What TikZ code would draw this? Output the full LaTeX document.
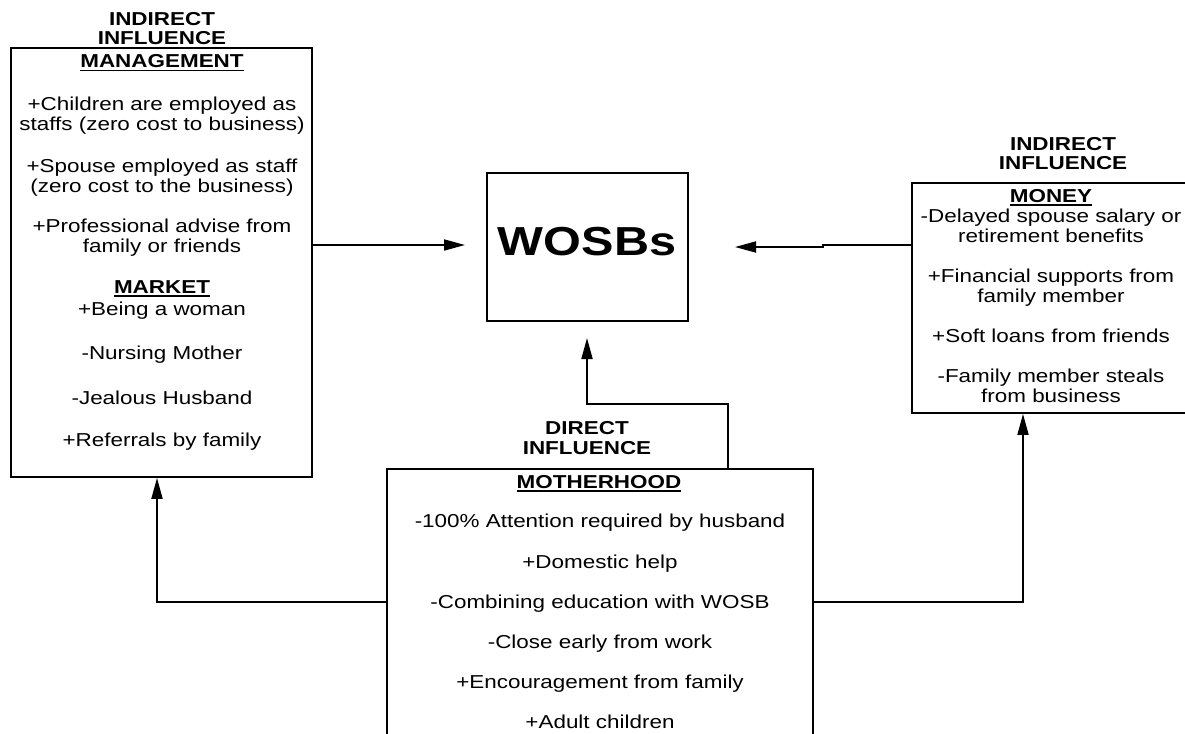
\documentclass[tikz,border=0pt]{standalone}
\usepackage{fontspec}
\setmainfont[FakeStretch=1.2]{Liberation Sans}
\usetikzlibrary{arrows.meta}
\newcommand\myul[1]{\setbox0\hbox{#1}\rlap{\rule[-3.5pt]{\wd0}{1.6pt}}\box0}
\begin{document}
\begin{tikzpicture}[x=1pt,y=-1pt,
  box/.style={draw, line width=1.8pt, inner sep=0pt},
  txt/.style={anchor=base, inner sep=0pt, font=\fontsize{18.7}{21}\selectfont},
  hdr/.style={anchor=base, inner sep=0pt, font=\fontsize{18.7}{21}\selectfont\bfseries},
  conn/.style={line width=1.8pt},
  arr/.style={conn, -{Triangle[length=21pt,width=11pt]}}]
\useasboundingbox (0,0) rectangle (1185,733);
\fill[white] (0,0) rectangle (1185,733);
% boxes
\node[box, minimum width=301pt, minimum height=429pt] (lbox) at (161.5,262.5) {};
\node[box, minimum width=201pt, minimum height=148pt] (wbox) at (587.5,247) {};
\node[box, minimum width=280pt, minimum height=230pt] (rbox) at (1052,298) {};
\node[box, minimum width=426pt, minimum height=291pt] (bbox) at (600,614.5) {};
% WOSBs
\node[anchor=base, inner sep=0pt, font=\fontsize{40.5}{42}\selectfont\bfseries] (wt) at (587,255) {WOSBs};
% left box texts
\node[hdr] (lh1) at (162,26) {INDIRECT};
\node[hdr] (lh2) at (162,45) {INFLUENCE};
\node[hdr] (lh3) at (162,68) {\myul{MANAGEMENT}};
\node[txt] (l1) at (162,111) {+Children are employed as};
\node[txt] (l2) at (162,131) {staffs (zero cost to business)};
\node[txt] (l3) at (162,172) {+Spouse employed as staff};
\node[txt] (l4) at (162,192) {(zero cost to the business)};
\node[txt] (l5) at (162,232) {+Professional advise from};
\node[txt] (l6) at (162,252) {family or friends};
\node[hdr] (lh4) at (162,293) {\myul{MARKET}};
\node[txt] (l7) at (162,315) {+Being a woman};
\node[txt] (l8) at (162,359) {-Nursing Mother};
\node[txt] (l9) at (162,404) {-Jealous Husband};
\node[txt] (l10) at (162,446) {+Referrals by family};
% right box texts
\node[hdr] (rh1) at (1063,150) {INDIRECT};
\node[hdr] (rh2) at (1063,169) {INFLUENCE};
\node[hdr] (rh3) at (1051,202) {\myul{MONEY}};
\node[txt] (r1) at (1051,222) {-Delayed spouse salary or};
\node[txt] (r2) at (1051,242) {retirement benefits};
\node[txt] (r3) at (1051,282) {+Financial supports from};
\node[txt] (r4) at (1051,302) {family member};
\node[txt] (r5) at (1051,342) {+Soft loans from friends};
\node[txt] (r6) at (1051,382) {-Family member steals};
\node[txt] (r7) at (1051,402) {from business};
% bottom box texts
\node[hdr] (bh1) at (587,434) {DIRECT};
\node[hdr] (bh2) at (587,454) {INFLUENCE};
\node[hdr] (bh3) at (599,488) {\myul{MOTHERHOOD}};
\node[txt] (b1) at (600,527) {-100\% Attention required by husband};
\node[txt] (b2) at (600,568) {+Domestic help};
\node[txt] (b3) at (600,608) {-Combining education with WOSB};
\node[txt] (b4) at (600,648) {-Close early from work};
\node[txt] (b5) at (600,688) {+Encouragement from family};
\node[txt] (b6) at (600,728) {+Adult children};
% connectors
\coordinate (a1) at (465,245);
\draw[arr] (lbox.east |- a1) -- (a1);
\coordinate (a2) at (823,245);
\coordinate (a3) at (823,247);
\coordinate (a4) at (735,247);
\draw[arr] (rbox.west |- a2) -- (a2) -- (a3) -- (a4);
\coordinate (j1) at (728,404);
\coordinate (j2) at (587,404);
\coordinate (w3) at (587,338);
\draw[arr] (bbox.north -| j1) -- (j1) -- (j2) -- (w3);
\coordinate (k1) at (157,602);
\draw[arr] (bbox.west |- k1) -- (k1) -- (lbox.south -| k1);
\coordinate (k2) at (1023,602);
\draw[arr] (bbox.east |- k2) -- (k2) -- (rbox.south -| k2);
\end{tikzpicture}
\end{document}
